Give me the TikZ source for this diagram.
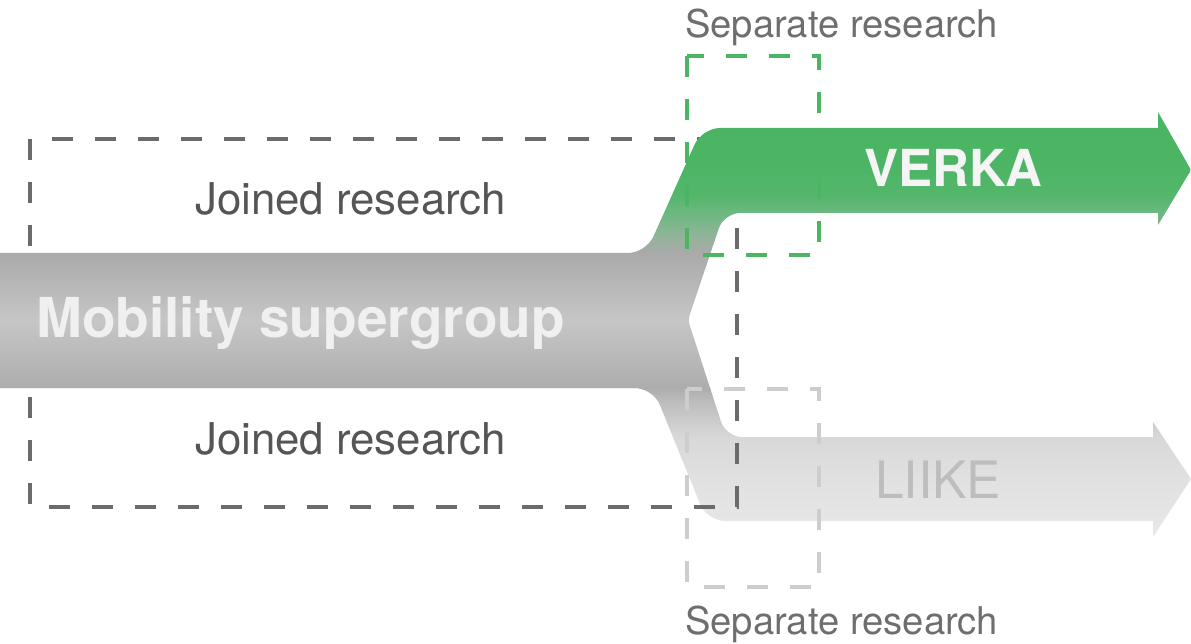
\documentclass[tikz,border=0pt]{standalone}
\usepackage{fontspec}
\setmainfont{TeX Gyre Heros}
\usepackage{tikz}

\definecolor{joinedline}{HTML}{6B6B6B}
\definecolor{sepgreen}{HTML}{4BB564}
\definecolor{sepgray}{HTML}{CDCDCD}
\definecolor{joinedtext}{HTML}{555555}
\definecolor{septext}{HTML}{6E6E6E}
\definecolor{liiketext}{HTML}{BDBDBD}

% colours of the flow, from the bottom up
\definecolor{fa}{HTML}{E9E9E9}
\definecolor{fb}{HTML}{E6E6E6}
\definecolor{fc}{HTML}{E1E1E1}
\definecolor{fd}{HTML}{D8D8D8}
\definecolor{fe}{HTML}{BDBDBD}
\definecolor{ff}{HTML}{ADADAD}
\definecolor{fg}{HTML}{C6C6C6}
\definecolor{fh}{HTML}{AAAAAA}
\definecolor{fi}{HTML}{90B498}
\definecolor{fj}{HTML}{6BB87F}
\definecolor{fk}{HTML}{54B66B}
\definecolor{fl}{HTML}{4BB564}
\definecolor{fm}{HTML}{49B462}

\pgfdeclareverticalshading{flow}{100bp}{%
  color(0bp)=(fa); color(25bp)=(fa); color(26.88bp)=(fb); color(31.71bp)=(fc);
  color(36.76bp)=(fd); color(40.88bp)=(fe); color(42.53bp)=(ff); color(50.53bp)=(fg);
  color(58.41bp)=(fh); color(60.53bp)=(fi); color(63.12bp)=(fj); color(65.24bp)=(fk);
  color(69.35bp)=(fl); color(75bp)=(fm); color(100bp)=(fm)}

% outline of the supergroup splitting into two arrows
\newcommand{\flowpath}{(0,320) -- (0,253) [rounded corners=18pt] -- (646,253) -- (702,128)
  [sharp corners] -- (1158,128) -- (1158,112) -- (1191,170) -- (1158,225) -- (1158,213)
  [rounded corners=16pt] -- (724,213) [rounded corners=5pt] -- (688,320)
  [rounded corners=16pt] -- (726,437) [sharp corners] -- (1153,437) -- (1153,422)
  -- (1191,479) -- (1153,537) -- (1153,521) [rounded corners=18pt] -- (707,521)
  -- (653,388) [sharp corners] -- (0,388) -- cycle}

\begin{document}
\begin{tikzpicture}[x=1pt, y=-1pt,
    boxline/.style={line width=4pt, dash pattern=on 21pt off 22pt},
    lbl/.style={anchor=base west, inner sep=0pt}]

  \useasboundingbox (0,0) rectangle (1191,644);

  % lower branch (LIIKE)
  \begin{scope}
    \clip \flowpath;
    \clip (0,388) rectangle (1191,644);
    \shade[shading=flow] (0,112) rectangle (1191,537);
  \end{scope}

  % joined research box
  \draw[boxline, joinedline] (30,139) rectangle (737,507);

  % main band and upper branch (VERKA)
  \begin{scope}
    \clip \flowpath;
    \clip (0,0) rectangle (1191,389);
    \shade[shading=flow] (0,112) rectangle (1191,537);
  \end{scope}

  % separate research boxes
  \draw[boxline, sepgreen] (687,56) rectangle (819,255);
  \draw[boxline, sepgray] (687,389) rectangle (819,587);

  % labels
  \node[lbl, text=septext, font=\fontsize{38.2}{45}\selectfont] (septop) at (685,38) {Separate research};
  \node[lbl, text=septext, font=\fontsize{38.2}{45}\selectfont] (sepbot) at (685,634) {Separate research};
  \node[lbl, text=joinedtext, font=\fontsize{43.8}{50}\selectfont] (jointop) at (195,215) {Joined research};
  \node[lbl, text=joinedtext, font=\fontsize{43.8}{50}\selectfont] (joinbot) at (195,454) {Joined research};
  \node[lbl, text=white!94!black, font=\fontsize{55}{64}\bfseries] (mobility) at (36,337) {Mobility supergroup};
  \node[lbl, text=white!96!black, font=\fontsize{51}{60}\bfseries] (verka) at (864,187) {VERKA};
  \node[lbl, text=liiketext, font=\fontsize{51.5}{58}\selectfont] (liike) at (875,498) {LIIKE};

\end{tikzpicture}
\end{document}
